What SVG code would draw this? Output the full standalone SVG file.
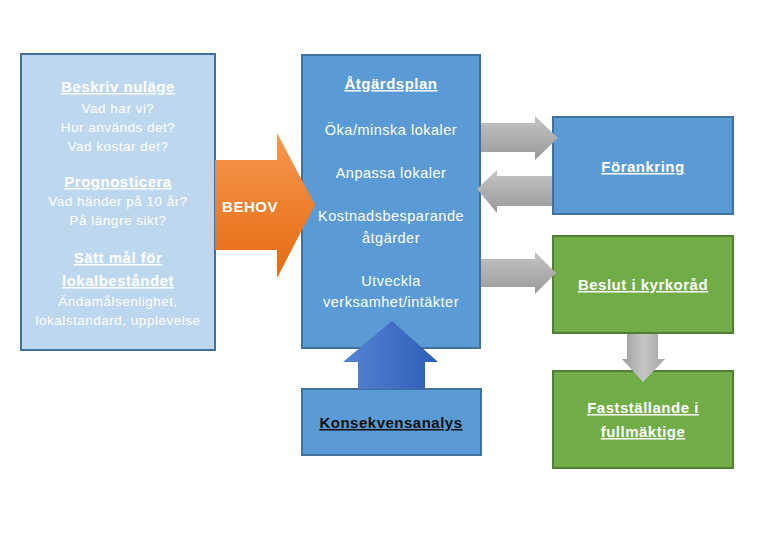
<svg xmlns="http://www.w3.org/2000/svg" width="780" height="540" viewBox="0 0 780 540">
<defs>
<linearGradient id="gOrange" x1="0" y1="0" x2="0" y2="1"><stop offset="0" stop-color="#F7984F"/><stop offset="1" stop-color="#E56A12"/></linearGradient>
<linearGradient id="gGray" x1="0" y1="0" x2="0" y2="1"><stop offset="0" stop-color="#C4C4C4"/><stop offset="1" stop-color="#999999"/></linearGradient>
<linearGradient id="gGrayH" x1="0" y1="0" x2="1" y2="0"><stop offset="0" stop-color="#9E9E9E"/><stop offset="0.5" stop-color="#C6C6C6"/><stop offset="1" stop-color="#A2A2A2"/></linearGradient>
<linearGradient id="gBlue" x1="0" y1="0" x2="1" y2="0"><stop offset="0" stop-color="#5584D4"/><stop offset="1" stop-color="#2E5DB8"/></linearGradient>
</defs>
<style>
text{font-family:"Liberation Sans",Arial,sans-serif;fill:#fff;text-anchor:middle;}
.h{font-weight:bold;font-size:15px;text-decoration:underline;letter-spacing:0.5px;}
.t{font-size:13.5px;letter-spacing:0.5px;}
.m{font-size:14.5px;letter-spacing:0.5px;}
.light{fill:#BDD7EE;stroke:#41719C;stroke-width:2;}
.blue{fill:#5B9BD5;stroke:#41719C;stroke-width:2;}
.green{fill:#70AD47;stroke:#507E32;stroke-width:2;}
</style>
<rect width="780" height="540" fill="#fff"/>
<g id="nodes">
<g id="nulage">
<rect class="light" x="21" y="54" width="194" height="296"/>
<text class="h" x="118" y="92">Beskriv nuläge</text>
<text class="t" x="118" y="113">Vad har vi?</text>
<text class="t" x="118" y="132">Hur används det?</text>
<text class="t" x="118" y="151">Vad kostar det?</text>
<text class="h" x="118" y="187">Prognosticera</text>
<text class="t" x="118" y="206">Vad händer på 10 år?</text>
<text class="t" x="118" y="225">På längre sikt?</text>
<text class="h" x="118" y="263">Sätt mål för</text>
<text class="h" x="118" y="286">lokalbeståndet</text>
<text class="t" x="118" y="306">Ändamålsenlighet,</text>
<text class="t" x="118" y="325">lokalstandard, upplevelse</text>
</g>
<g id="atgardsplan">
<rect class="blue" x="302" y="55" width="178" height="293"/>
<text class="h" x="391" y="89">Åtgärdsplan</text>
<text class="m" x="391" y="135">Öka/minska lokaler</text>
<text class="m" x="391" y="178">Anpassa lokaler</text>
<text class="m" x="391" y="221">Kostnadsbesparande</text>
<text class="m" x="391" y="243">åtgärder</text>
<text class="m" x="391" y="286">Utveckla</text>
<text class="m" x="391" y="307">verksamhet/intäkter</text>
</g>
<g id="konsekvens">
<rect class="blue" x="302" y="389" width="179" height="66"/>
<text class="h" x="391" y="428" style="fill:#111">Konsekvensanalys</text>
</g>
<g id="forankring">
<rect class="blue" x="553" y="117" width="180" height="97"/>
<text class="h" x="643" y="172">Förankring</text>
</g>
<g id="beslut">
<rect class="green" x="553" y="236" width="180" height="97"/>
<text class="h" x="643" y="290">Beslut i kyrkoråd</text>
</g>
<g id="faststallande">
<rect class="green" x="553" y="371" width="180" height="97"/>
<text class="h" x="643" y="413">Fastställande i</text>
<text class="h" x="643" y="437">fullmäktige</text>
</g>
</g>
<g id="connectors">
<g id="behov">
<polygon fill="url(#gOrange)" points="215,160 277,160 277,133 315,205 277,278 277,250 215,250"/>
<text x="250" y="212" style="font-weight:bold;font-size:15px;letter-spacing:0.5px;">BEHOV</text>
</g>
<polygon fill="url(#gGray)" points="481,123 535,123 535,116 558,138 535,160 535,152 481,152"/>
<polygon fill="url(#gGray)" points="552,176 497,176 497,170 477,189 497,213 497,206 552,206"/>
<polygon fill="url(#gGray)" points="481,259 535,259 535,252 556,273 535,294 535,287 481,287"/>
<polygon fill="url(#gGrayH)" points="627,334 658,334 658,359 665,359 643,382 622,359 627,359"/>
<polygon fill="url(#gBlue)" points="392,321 438,362 425,362 425,389 358,389 358,362 343,362"/>
</g>
</svg>
